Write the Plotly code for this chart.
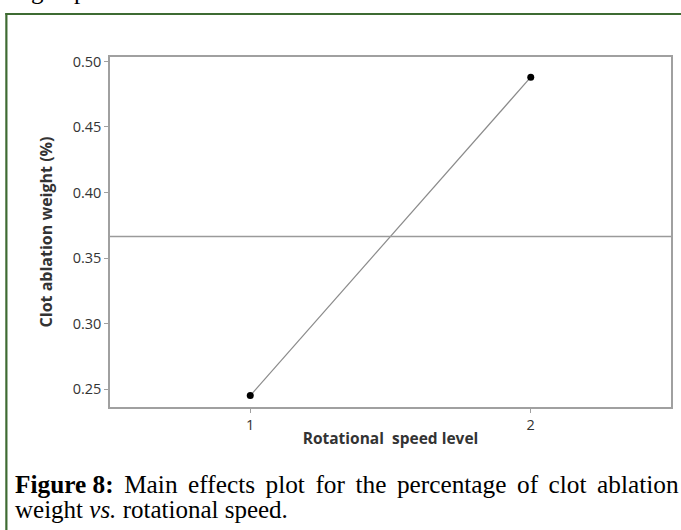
import plotly.graph_objects as go

# ---- data ----
speed_levels = [1, 2]
speed_tick_labels = ["1", "2"]
mean_weight = [0.245, 0.488]
grand_mean = [0.3665]
y_ticks = [0.25, 0.30, 0.35, 0.40, 0.45, 0.50]
y_tick_labels = ["0.25", "0.30", "0.35", "0.40", "0.45", "0.50"]

W, H = 681, 530
L, R, T, B = 110, 8, 57, 123
pw, ph = W - L - R, H - T - B

def px(x):
    return (x - L) / pw

def py(y):
    return (H - B - y) / ph

fig = go.Figure()

# connecting line + points
fig.add_trace(go.Scatter(
    x=speed_levels, y=mean_weight, mode="lines",
    line=dict(color="#8a8a8a", width=1.2), hoverinfo="skip", showlegend=False))
fig.add_trace(go.Scatter(
    x=speed_levels, y=mean_weight, mode="markers",
    marker=dict(color="black", size=7), showlegend=False))

# grand mean reference line
fig.add_hline(y=grand_mean[0], line=dict(color="#9a9a9a", width=1.5))

tick_font = dict(family="Open Sans, Noto Sans, sans-serif", size=14.5, color="#333333")
xtitle_font = dict(family="Open Sans, Noto Sans, sans-serif", size=15.5, color="#333333")
ytitle_font = dict(family="Open Sans, Noto Sans, sans-serif", size=16, color="#333333")

fig.update_xaxes(
    range=[0.5, 2.5], tickvals=speed_levels, ticktext=speed_tick_labels,
    showgrid=False, zeroline=False, showline=True, mirror=True,
    linecolor="#a0a0a0", linewidth=1.5, ticks="outside", ticklen=4,
    tickcolor="#a0a0a0", tickfont=tick_font,
    title=dict(text="<b>Rotational  speed level</b>", font=xtitle_font, standoff=0))
fig.update_yaxes(
    range=[0.2363, 0.5034], tickvals=y_ticks, ticktext=y_tick_labels,
    showgrid=False, zeroline=False, showline=True, mirror=True,
    linecolor="#a0a0a0", linewidth=1.5, ticks="outside", ticklen=4,
    tickcolor="#a0a0a0", tickfont=tick_font,
    title=dict(text="<b>Clot ablation weight (%)</b>", font=ytitle_font, standoff=16))

# green page frame
frame_col = "#3e6b32"
fig.add_shape(type="line", xref="paper", yref="paper",
              x0=px(5), x1=px(690), y0=py(14), y1=py(14),
              line=dict(color=frame_col, width=2.2))
fig.add_shape(type="line", xref="paper", yref="paper",
              x0=px(6), x1=px(6), y0=py(13), y1=py(540),
              line=dict(color=frame_col, width=2.2))

serif = dict(family="Liberation Serif, DejaVu Serif, serif", size=25, color="black")
serif1 = dict(serif, size=25.3)
gap = " \u2006"
line1_words = ["<b>Figure 8:</b>", "Main", "effects", "plot", "for", "the",
               "percentage", "of", "clot", "ablation"]
fig.add_annotation(
    xref="paper", yref="paper", x=px(13), y=py(484), xanchor="left", yanchor="middle",
    text=gap.join(line1_words), showarrow=False, font=serif1)
fig.add_annotation(
    xref="paper", yref="paper", x=px(13), y=py(509), xanchor="left", yanchor="middle",
    text="weight <i>vs.</i> rotational speed.", showarrow=False, font=serif)

# remnants of the previous text line at the very top
for ch, xpos in [("g", 29), ("p", 72)]:
    fig.add_annotation(
        xref="paper", yref="paper", x=px(xpos), y=py(6), xanchor="left", yanchor="bottom",
        text=ch, showarrow=False, font=serif)

fig.update_layout(
    width=W, height=H, margin=dict(l=L, r=R, t=T, b=B),
    paper_bgcolor="white", plot_bgcolor="white", showlegend=False)

fig.write_html("out.html", config={"displayModeBar": False},
               post_script="document.body.style.margin='0';")
